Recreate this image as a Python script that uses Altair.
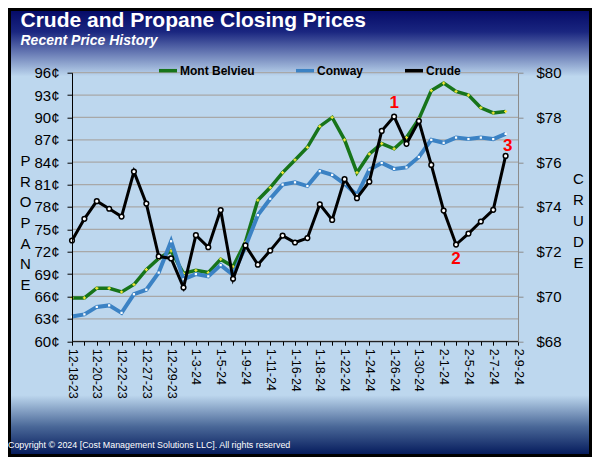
import json
import altair as alt
import pandas as pd

FONT = "Liberation Sans, Arial, sans-serif"

categories = ["12-18-23", "12-19-23", "12-20-23", "12-21-23", "12-22-23", "12-26-23",
              "12-27-23", "12-28-23", "12-29-23", "1-2-24", "1-3-24", "1-4-24", "1-5-24",
              "1-8-24", "1-9-24", "1-10-24", "1-11-24", "1-12-24", "1-16-24", "1-17-24",
              "1-18-24", "1-19-24", "1-22-24", "1-23-24", "1-24-24", "1-25-24", "1-26-24",
              "1-29-24", "1-30-24", "1-31-24", "2-1-24", "2-2-24", "2-5-24", "2-6-24",
              "2-7-24", "2-8-24", "2-9-24"]
tick_labels = categories[::2]

mont_belvieu = [65.8, 65.8, 67.1, 67.1, 66.6, 67.6, 69.6, 71.1, 72.1, 69.1, 69.5, 69.2,
                71.0, 70.0, 73.3, 78.9, 80.6, 82.6, 84.3, 86.0, 88.8, 90.0, 87.0, 82.6,
                85.1, 86.5, 85.8, 87.3, 89.8, 93.6, 94.6, 93.5, 93.0, 91.3, 90.6, 90.8]
conway = [63.3, 63.6, 64.6, 64.8, 63.8, 66.3, 66.9, 69.2, 73.4, 68.3, 69.0, 68.7,
          70.2, 68.9, 72.7, 76.9, 79.1, 81.0, 81.3, 80.8, 82.8, 82.3, 81.1, 79.6,
          83.0, 83.9, 83.1, 83.3, 84.7, 87.0, 86.6, 87.3, 87.1, 87.3, 87.1, 87.8]
crude = [72.50, 73.47, 74.26, 73.92, 73.57, 75.58, 74.15, 71.79, 71.70, 70.40, 72.74, 72.20,
         73.86, 70.79, 72.28, 71.42, 72.05, 72.72, 72.41, 72.61, 74.12, 73.42, 75.24, 74.39,
         75.13, 77.40, 78.04, 76.82, 77.84, 75.88, 73.84, 72.32, 72.81, 73.35, 73.87, 76.28]

series_names = ["Mont Belvieu", "Conway", "Crude"]
series_colors = ["#17741A", "#3B82C4", "#000000"]
propane_ticks = list(range(60, 97, 3))
crude_ticks = list(range(68, 81, 2))

title_text = "Crude and Propane Closing Prices"
subtitle_text = "Recent Price History"
copyright_text = "Copyright \u00a9 2024 [Cost Management Solutions LLC].  All rights reserved"
propane_title = list("PROPANE")
crude_title = list("CRUDE")
note_1 = ("1", "1-26-24")
note_2 = ("2", "2-2-24")
note_3 = ("3", "2-8-24")

n = len(crude)
dates = categories[:n]
propane_df = pd.DataFrame({
    "date": dates * 2,
    "series": ["Mont Belvieu"] * n + ["Conway"] * n,
    "value": mont_belvieu + conway,
})
crude_df = pd.DataFrame({"date": dates, "series": ["Crude"] * n, "crude": crude})
crude_lookup = dict(zip(dates, crude))


def note_df(note):
    return pd.DataFrame({"date": [note[1]], "note": [note[0]], "crude": [crude_lookup[note[1]]]})


grid_df = pd.DataFrame({"value": propane_ticks})

label_expr = "indexof(" + json.dumps(tick_labels) + ", datum.value) >= 0 ? datum.value : ''"

x_enc = alt.X(
    "date:N",
    scale=alt.Scale(type="point", domain=categories, padding=0),
    axis=alt.Axis(title=None, labelExpr=label_expr, labelAngle=90, labelAlign="left",
                  labelBaseline="middle", labelFontSize=12.5, labelPadding=3, labelOverlap=False,
                  tickSize=4, tickColor="black", domainColor="black", labelColor="black",
                  grid=False, zindex=1),
)

y_left = alt.Y(
    "value:Q",
    scale=alt.Scale(domain=[60, 96], nice=False, zero=False),
    axis=alt.Axis(orient="left", values=propane_ticks, labelExpr="datum.value + '\u00a2'",
                  grid=False, title=propane_title, titleAngle=0, titleX=-47, titleY=93,
                  titleAlign="center", titleBaseline="alphabetic", titleLineHeight=20.6,
                  titleFontSize=15, titleFontWeight="normal", titleColor="black",
                  labelFontSize=15, labelColor="black", labelPadding=8, tickSize=5,
                  tickColor="black", domainColor="black", zindex=1),
)

y_right = alt.Y(
    "crude:Q",
    scale=alt.Scale(domain=[68, 80], nice=False, zero=False),
    axis=alt.Axis(orient="right", values=crude_ticks, labelExpr="'$' + datum.value",
                  grid=False, title=crude_title, titleAngle=0, titleX=60, titleY=111,
                  titleAlign="center", titleBaseline="alphabetic", titleLineHeight=21,
                  titleFontSize=15, titleFontWeight="normal", titleColor="black",
                  labelFontSize=15, labelColor="black", labelPadding=13, tickSize=5,
                  tickColor="#8C8C8C", domainColor="#8C8C8C", zindex=1),
)

color_enc = alt.Color(
    "series:N",
    scale=alt.Scale(domain=series_names, range=series_colors),
    legend=alt.Legend(orient="none", legendX=85, legendY=-13, direction="horizontal",
                      title=None, symbolType="stroke", symbolSize=324, symbolStrokeWidth=3.5,
                      labelFontSize=12, labelFontWeight="bold", labelColor="black",
                      columnPadding=34, labelOffset=1, labelLimit=200),
)

# Background panel with vertical gradient and dark frame
bg = alt.Chart(pd.DataFrame({"k": [0]})).mark_rect(
    fill=alt.Gradient(
        gradient="linear", x1=0, x2=0, y1=0, y2=1,
        stops=[
            alt.GradientStop(offset=0.0, color="#040966"),
            alt.GradientStop(offset=0.05, color="#1A2680"),
            alt.GradientStop(offset=0.15, color="#BDD7EE"),
            alt.GradientStop(offset=0.865, color="#BDD7EE"),
            alt.GradientStop(offset=0.935, color="#4A6898"),
            alt.GradientStop(offset=1.0, color="#02185A"),
        ],
    ),
    stroke="black", strokeWidth=3,
).encode(x=alt.value(-62.5), x2=alt.value(518.5), y=alt.value(-63.2), y2=alt.value(382.8))

grid = alt.Chart(grid_df).mark_rule(color="#A8A8A8", strokeWidth=1.2).encode(y=y_left)

src = alt.Chart(propane_df)
green_line = src.transform_filter(alt.datum.series == "Mont Belvieu").mark_line(
    strokeWidth=3.5).encode(x=x_enc, y=y_left, color=color_enc)
green_pts = src.transform_filter(alt.datum.series == "Mont Belvieu").mark_point(
    shape="cross", filled=True, size=10, color="#F2E537", opacity=1).encode(x=x_enc, y=y_left)
blue_line = src.transform_filter(alt.datum.series == "Conway").mark_line(
    strokeWidth=4).encode(x=x_enc, y=y_left, color=color_enc)
blue_pts = src.transform_filter(alt.datum.series == "Conway").mark_point(
    shape="square", filled=True, size=5, color="white", opacity=1).encode(x=x_enc, y=y_left)

left = alt.layer(grid, green_line, green_pts, blue_line, blue_pts)

crude_line = alt.Chart(crude_df).mark_line(strokeWidth=3).encode(x=x_enc, y=y_right, color=color_enc)
crude_pts = alt.Chart(crude_df).mark_point(
    shape="circle", filled=True, fill="white", stroke="black", strokeWidth=1.5, size=22,
    opacity=1).encode(x=x_enc, y=y_right)


def note_layer(note, dx, dy):
    return alt.Chart(note_df(note)).mark_text(
        color="#FF0000", fontSize=17, fontWeight="bold", dx=dx, dy=dy, baseline="middle"
    ).encode(x=x_enc, y=y_right, text="note:N")


right = alt.layer(crude_line, crude_pts, note_layer(note_1, 0, -14),
                  note_layer(note_2, 0, 14), note_layer(note_3, 2, -10))

title = alt.Chart(pd.DataFrame({"t": [title_text]})).mark_text(
    align="left", baseline="alphabetic", fontSize=21, fontWeight="bold", color="white").encode(
    x=alt.value(-51.5), y=alt.value(-45.7), text="t:N")
subtitle = alt.Chart(pd.DataFrame({"t": [subtitle_text]})).mark_text(
    align="left", baseline="alphabetic", fontSize=14, fontWeight="bold", fontStyle="italic",
    color="white").encode(x=alt.value(-51.5), y=alt.value(-27.7), text="t:N")
copyright = alt.Chart(pd.DataFrame({"t": [copyright_text]})).mark_text(
    align="left", baseline="alphabetic", fontSize=8.9, color="white").encode(
    x=alt.value(-64), y=alt.value(375), text="t:N")

chart = alt.layer(bg, left, right, title, subtitle, copyright).resolve_scale(
    y="independent"
).properties(
    width=446, height=268.5,
    autosize=alt.AutoSizeParams(type="none"),
    padding={"left": 64, "top": 64.7, "right": 74, "bottom": 115.8},
).configure_view(stroke=None).configure_axis(
    labelFont=FONT, titleFont=FONT
).configure_legend(labelFont=FONT).configure_text(font=FONT)

chart.save("out.html", embed_options={"renderer": "svg", "actions": False})
